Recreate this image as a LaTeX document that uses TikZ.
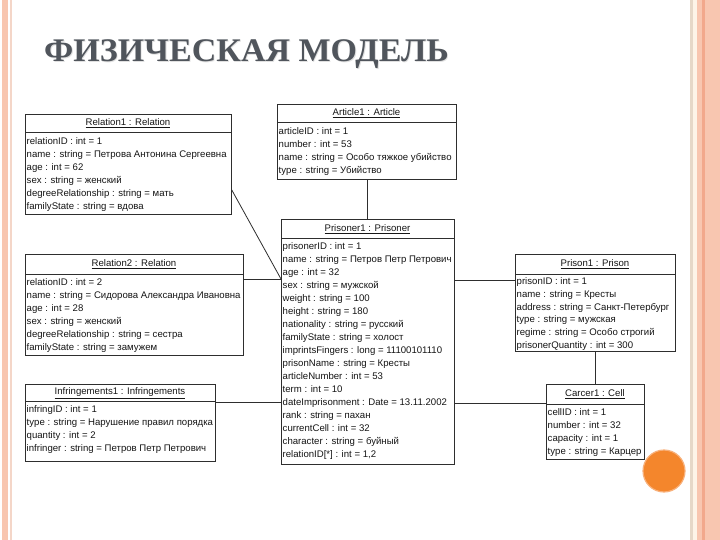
\documentclass[tikz,border=0pt]{standalone}
\usepackage{fontspec}
\setmainfont{Liberation Sans}
\newfontfamily\titlefont{Liberation Serif}
\usetikzlibrary{calc}
\definecolor{peach}{HTML}{F8C6B0}
\definecolor{peachline}{HTML}{F4D6C8}
\definecolor{salmon}{HTML}{F2A88C}
\definecolor{beige}{HTML}{E6D8C8}
\definecolor{cream}{HTML}{FDF4E8}
\definecolor{titlegray}{HTML}{50555C}
\definecolor{boxline}{HTML}{2E2E2E}
\definecolor{txt}{HTML}{151515}
\definecolor{orangedot}{HTML}{F4862C}
\definecolor{orangeedge}{HTML}{F8B07A}
\tikzset{
  objbox/.style={draw=boxline, line width=0.8pt, fill=white, inner sep=0pt, anchor=north west},
  headtext/.style={font=\fontsize{9.6}{12}\selectfont, inner sep=0pt, text=txt},
  rowtext/.style={font=\fontsize{9.6}{12}\selectfont, inner sep=0pt, anchor=base west, text=txt},
  link/.style={draw=boxline, line width=0.8pt},
  titlestyle/.style={anchor=base west, inner sep=0pt, xscale=1.03, font=\titlefont\bfseries\fontsize{33}{36}\selectfont},
}
\def\rstep{13}
% #1 name #2 x1 #3 y1 #4 x2 #5 y2 #6 yhead #7 first baseline #8 title #9 rows
\newcommand\umlobj[9]{%
  \node[objbox, minimum width={(#4-#2)*1pt}, minimum height={(#5-#3)*1pt}] (#1) at (#2,#3) {};
  \draw[link] (#1.west |- 0,#6) -- (#1.east |- 0,#6);
  \node[headtext] (#1-title) at ({(#2+#4)/2},{(#3+#6)/2+0.5}) {\underline{#8}};
  \foreach \rowtxt [count=\i] in {#9} {\node[rowtext] (#1-\i) at ({#2+1.5},{#7+\rstep*(\i-1)}) {\rowtxt};}
}
\begin{document}
\begin{tikzpicture}[x=1pt,y=-1pt]
\useasboundingbox (0,0) rectangle (720,540);
\fill[white] (0,0) rectangle (720,540);
% page frame
\fill[peach] (1.5,0) rectangle (7.5,540);
\fill[peachline] (10,0) rectangle (12,540);
\fill[beige] (689.5,0) rectangle (693,540);
\fill[cream] (693,0) rectangle (697,540);
\fill[peach] (697,0) rectangle (720,540);
\fill[salmon] (702,0) rectangle (705,540);
% title
\node[titlestyle, text=black!12] (titleshadow) at (44.8,62.8) {ФИЗИЧЕСКАЯ МОДЕЛЬ};
\node[titlestyle, text=titlegray] (title) at (44,62) {ФИЗИЧЕСКАЯ МОДЕЛЬ};
% objects
\umlobj{rel1}{25}{114}{231}{214}{132}{144.5}{Relation1 : Relation}{{relationID : int = 1},{name : string = Петрова Антонина Сергеевна},{age : int = 62},{sex : string = женский},{degreeRelationship : string = мать},{familyState : string = вдова}}
\umlobj{art}{277}{104}{456}{179}{122}{134.5}{Article1 : Article}{{articleID : int = 1},{number : int = 53},{name : string = Особо тяжкое убийство},{type : string = Убийство}}
\umlobj{pris}{281}{219}{454}{464}{238}{249.5}{Prisoner1 : Prisoner}{{prisonerID : int = 1},{name : string = Петров Петр Петрович},{age : int = 32},{sex : string = мужской},{weight : string = 100},{height : string = 180},{nationality : string = русский},{familyState : string = холост},{imprintsFingers : long = 11100101110},{prisonName : string = Кресты},{articleNumber : int = 53},{term : int = 10},{dateImprisonment : Date = 13.11.2002},{rank : string = пахан},{currentCell : int = 32},{character : string = буйный},{relationID[*] : int = 1,2}}
\umlobj{rel2}{25}{254}{243}{355}{274}{285.8}{Relation2 : Relation}{{relationID : int = 2},{name : string = Сидорова Александра Ивановна},{age : int = 28},{sex : string = женский},{degreeRelationship : string = сестра},{familyState : string = замужем}}
\umlobj{infr}{25}{384}{215}{461}{401}{412.8}{Infringements1 : Infringements}{{infringID : int = 1},{type : string = Нарушение правил порядка},{quantity : int = 2},{infringer : string = Петров Петр Петрович}}
\def\rstep{12.9}
\umlobj{prison}{515}{254}{675}{351}{274}{284.2}{Prison1 : Prison}{{prisonID : int = 1},{name : string = Кресты},{address : string = Санкт-Петербург},{type : string = мужская},{regime : string = Особо строгий},{prisonerQuantity : int = 300}}
\umlobj{carcer}{546}{384}{644}{459}{404}{415.8}{Carcer1 : Cell}{{cellID : int = 1},{number : int = 32},{capacity : int = 1},{type : string = Карцер}}
% connectors
\draw[link] (rel1.east |- 0,190) -- (pris.west |- 0,279);
\draw[link] (rel2.east |- 0,279) -- (pris.west |- 0,279);
\draw[link] (art.south -| 367,0) -- (pris.north -| 367,0);
\draw[link] (pris.east |- 0,280) -- (prison.west |- 0,280);
\draw[link] (infr.east |- 0,402) -- (pris.west |- 0,402);
\draw[link] (pris.east |- 0,403) -- (carcer.west |- 0,403);
\draw[link] (prison.south -| 595,0) -- (carcer.north -| 595,0);
% decoration
\fill[orangedot, draw=orangeedge, line width=1.2pt] (664,471) circle (21);
\end{tikzpicture}
\end{document}
